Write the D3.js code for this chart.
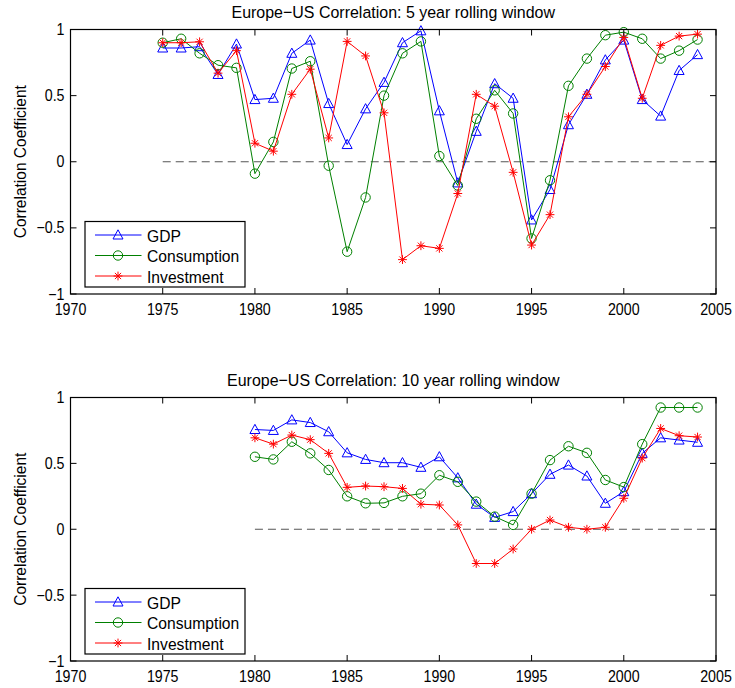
<!DOCTYPE html>
<html>
<head>
<meta charset="utf-8">
<script src="https://cdn.jsdelivr.net/npm/d3@7"></script>
<style>
  html, body { margin: 0; padding: 0; background: #fff; }
  svg { display: block; }
  text { font-family: "Liberation Sans", Arial, Helvetica, sans-serif; fill: #000; }
</style>
</head>
<body>
<svg id="chart" width="735" height="688"></svg>
<script>
// ---------- DATA ----------
const years5 = [1975,1976,1977,1978,1979,1980,1981,1982,1983,1984,1985,1986,1987,1988,1989,
                1990,1991,1992,1993,1994,1995,1996,1997,1998,1999,2000,2001,2002,2003,2004];
const gdp5  = [0.86,0.86,0.87,0.66,0.89,0.47,0.48,0.82,0.92,0.44,0.13,0.40,0.60,0.90,0.99,
               0.385,-0.16,0.23,0.59,0.48,-0.44,-0.21,0.28,0.51,0.77,0.92,0.47,0.345,0.69,0.81];
const cons5 = [0.90,0.93,0.82,0.73,0.71,-0.09,0.15,0.705,0.76,-0.03,-0.68,-0.27,0.50,0.82,0.91,
               0.043,-0.18,0.325,0.54,0.365,-0.58,-0.14,0.574,0.78,0.957,0.98,0.93,0.78,0.84,0.924];
const inv5  = [0.90,0.90,0.907,0.67,0.84,0.14,0.08,0.51,0.70,0.18,0.91,0.80,0.37,-0.74,-0.635,
               -0.655,-0.24,0.51,0.42,-0.08,-0.63,-0.40,0.34,0.51,0.72,0.94,0.48,0.88,0.95,0.965];

const years10 = [1980,1981,1982,1983,1984,1985,1986,1987,1988,1989,1990,1991,1992,
                 1993,1994,1995,1996,1997,1998,1999,2000,2001,2002,2003,2004];
const gdp10  = [0.757,0.75,0.83,0.81,0.74,0.58,0.53,0.505,0.505,0.47,0.55,0.39,0.19,
                0.09,0.134,0.27,0.417,0.487,0.404,0.197,0.285,0.576,0.694,0.677,0.66];
const cons10 = [0.55,0.53,0.664,0.576,0.45,0.25,0.197,0.20,0.25,0.27,0.41,0.36,0.21,
                0.096,0.033,0.27,0.525,0.63,0.58,0.374,0.32,0.646,0.924,0.924,0.924];
const inv10  = [0.694,0.646,0.715,0.68,0.576,0.318,0.328,0.323,0.31,0.19,0.184,0.033,-0.26,
                -0.26,-0.15,0.0,0.07,0.015,0.0,0.015,0.235,0.54,0.765,0.71,0.70];

const xTicks = [1970,1975,1980,1985,1990,1995,2000,2005];
const yTicks = [-1,-0.5,0,0.5,1];
const yTickLabels = ["\u22121","\u22120.5","0","0.5","1"];
const seriesNames = ["GDP","Consumption","Investment"];
const seriesColors = ["#0000ff","#008000","#ff0000"];
const seriesMarkers = ["triangle","circle","star"];
const titles = ["Europe\u2212US Correlation: 5 year rolling window",
                "Europe\u2212US Correlation: 10 year rolling window"];
const yLabel = "Correlation Coefficient";
const zeroStart = [1975, 1980];

// ---------- DRAW ----------
const svg = d3.select("#chart");
const x = d3.scaleLinear().domain([1970, 2005]).range([70.5, 716]);

const panels = [
  { top: 29.5, bottom: 294, years: years5, series: [gdp5, cons5, inv5], title: titles[0], zs: zeroStart[0] },
  { top: 397.5, bottom: 661, years: years10, series: [gdp10, cons10, inv10], title: titles[1], zs: zeroStart[1] }
];

// text with horizontal condensing (reference glyphs are taller than wide)
function label(g, str, tx, ty, size, sx, anchor, rot) {
  const t = g.append("text")
    .attr("transform", `translate(${tx},${ty})${rot ? " rotate(" + rot + ")" : ""} scale(${sx},1)`)
    .attr("font-size", size)
    .attr("text-anchor", anchor || "start")
    .text(str);
  return t;
}

function drawMarker(g, type, color) {
  if (type === "triangle") {
    g.append("path").attr("d", "M0,-5.2 L5,4 L-5,4 Z")
      .attr("fill", "none").attr("stroke", color).attr("stroke-width", 1);
  } else if (type === "circle") {
    g.append("circle").attr("r", 4.7)
      .attr("fill", "none").attr("stroke", color).attr("stroke-width", 1);
  } else {
    const s = 4.4, d = 3.1;
    g.append("path")
      .attr("d", `M${-s},0L${s},0M0,${-s}L0,${s}M${-d},${-d}L${d},${d}M${-d},${d}L${d},${-d}`)
      .attr("fill", "none").attr("stroke", color).attr("stroke-width", 1);
  }
}

panels.forEach(p => {
  const y = d3.scaleLinear().domain([-1, 1]).range([p.bottom, p.top]);
  const g = svg.append("g");
  const [x0, x1] = x.range();

  // zero dashed line
  g.append("line")
    .attr("x1", x(p.zs)).attr("x2", x1)
    .attr("y1", y(0)).attr("y2", y(0))
    .attr("stroke", "#555").attr("stroke-width", 1.2)
    .attr("stroke-dasharray", "8,5");

  // series
  p.series.forEach((vals, si) => {
    const pts = p.years.map((yr, i) => [yr, vals[i]]);
    const line = d3.line().x(d => x(d[0])).y(d => y(d[1]));
    g.append("path").datum(pts)
      .attr("d", line).attr("fill", "none")
      .attr("stroke", seriesColors[si]).attr("stroke-width", 1);
    pts.forEach(d => {
      const mg = g.append("g").attr("transform", `translate(${x(d[0])},${y(d[1])})`);
      drawMarker(mg, seriesMarkers[si], seriesColors[si]);
    });
  });

  // axes box
  g.append("rect")
    .attr("x", x0).attr("y", p.top)
    .attr("width", x1 - x0).attr("height", p.bottom - p.top)
    .attr("fill", "none").attr("stroke", "#000").attr("stroke-width", 1.2);

  const tl = 6;
  // x ticks (inward, top and bottom)
  xTicks.forEach(t => {
    const xx = x(t);
    g.append("line").attr("x1", xx).attr("x2", xx).attr("y1", p.bottom).attr("y2", p.bottom - tl)
      .attr("stroke", "#000");
    g.append("line").attr("x1", xx).attr("x2", xx).attr("y1", p.top).attr("y2", p.top + tl)
      .attr("stroke", "#000");
    label(g, String(t), xx, p.bottom + 21, 16, 0.89, "middle");
  });
  // y ticks
  yTicks.forEach((t, i) => {
    const yy = y(t);
    g.append("line").attr("x1", x0).attr("x2", x0 + tl).attr("y1", yy).attr("y2", yy)
      .attr("stroke", "#000");
    g.append("line").attr("x1", x1).attr("x2", x1 - tl).attr("y1", yy).attr("y2", yy)
      .attr("stroke", "#000");
    label(g, yTickLabels[i], x0 - 6, yy + 5.5, 16, 0.89, "end");
  });

  // title
  label(g, p.title, (x0 + x1) / 2, p.top - 11.5, 17, 0.94, "middle");

  // y label
  const cy = (p.top + p.bottom) / 2;
  label(g, yLabel, 26, cy, 16, 0.97, "middle", -90);

  // legend
  const lx = 85, lw = 160, lh = 65.5;
  const ly = p.bottom - 72.5;
  const lg = g.append("g");
  lg.append("rect").attr("x", lx).attr("y", ly).attr("width", lw).attr("height", lh)
    .attr("fill", "#fff").attr("stroke", "#000").attr("stroke-width", 1.2);
  seriesNames.forEach((name, si) => {
    const ry = ly + 13.5 + si * 20.5;
    lg.append("line").attr("x1", lx + 10).attr("x2", lx + 56.5)
      .attr("y1", ry).attr("y2", ry)
      .attr("stroke", seriesColors[si]).attr("stroke-width", 1);
    const mg = lg.append("g").attr("transform", `translate(${lx + 33},${ry})`);
    drawMarker(mg, seriesMarkers[si], seriesColors[si]);
    label(lg, name, lx + 62, ry + 6.5, 16.5, 0.95, "start");
  });
});
</script>
</body>
</html>
